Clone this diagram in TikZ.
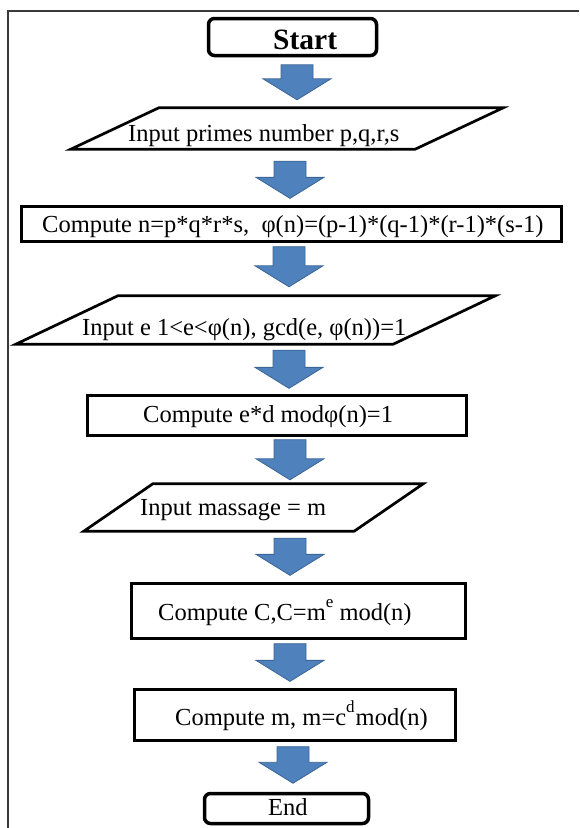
\documentclass[tikz,border=0pt]{standalone}
\usepackage{fontspec}
\setmainfont{Liberation Serif}
\usetikzlibrary{calc}
\definecolor{arrowfill}{HTML}{4F81BD}
\definecolor{arrowedge}{HTML}{3B6594}
\definecolor{framegray}{HTML}{3A3A3A}
\newcommand{\flowfont}{\fontsize{24.5}{29}\selectfont}
\newcommand{\titlefont}{\fontsize{29.5}{34}\selectfont\bfseries}
\newcommand{\supfont}{\fontsize{17}{17}\selectfont}
\newcommand{\raisedsup}[1]{\raisebox{12.5pt}{\supfont #1}}

\begin{document}
\begin{tikzpicture}[x=1pt,y=-1pt,
  terminal/.style={draw, line width=3.5pt, rounded corners=6pt, inner sep=0pt},
  process/.style={draw, line width=3.3pt, inner sep=0pt},
  iobox/.style={inner sep=0pt},
  ioline/.style={draw, line width=2.7pt, line join=miter},
  txt/.style={anchor=base west, inner sep=0pt, font=\flowfont},
  flowarrow/.style={fill=arrowfill, draw=arrowedge, line width=0.8pt, line join=miter,
    to path={let \p1=(\tikztostart), \p2=(\tikztotarget) in
      ({\x1-16pt},\y1) -- ({\x1+16pt},\y1) -- ({\x1+16pt},{\y2+21pt})
      -- ({\x1+34pt},{\y2+21pt}) -- (\x1,\y2) -- ({\x1-34pt},{\y2+21pt})
      -- ({\x1-16pt},{\y2+21pt}) -- cycle}}
]
\useasboundingbox (0,0) rectangle (579,828);

% page frame: left and top rules
\draw[framegray, line width=2pt] (7.5,828) -- (7.5,10.7) -- (579,10.7);

% start terminal
\node[terminal, minimum width=168pt, minimum height=37pt] (start) at (292.5,37) {};
\node[txt, font=\titlefont] (tstart) at (273,49.5) {Start};

% input p, q, r, s
\node[iobox, minimum width=432pt, minimum height=41pt] (in1) at (287,128.5) {};
\draw[ioline] ([xshift=88pt]in1.north west) -- (in1.north east)
  -- ([xshift=-88pt]in1.south east) -- (in1.south west) -- cycle;
\node[txt] (tin1) at (128,141) {Input primes number p,q,r,s};

% modulus and totient
\node[process, minimum width=540pt, minimum height=35pt] (r2) at (291.5,224) {};
\node[txt] (tr2) at (42,232.5) {Compute n=p*q*r*s,\ \ φ(n)=(p-1)*(q-1)*(r-1)*(s-1)};

% input e
\node[iobox, minimum width=479pt, minimum height=48pt] (in2) at (255.5,320) {};
\draw[ioline] ([xshift=102pt]in2.north west) -- (in2.north east)
  -- ([xshift=-102pt]in2.south east) -- (in2.south west) -- cycle;
\node[txt] (tin2) at (82,335) {Input e 1<e<φ(n), gcd(e, φ(n))=1};

% private exponent
\node[process, minimum width=379pt, minimum height=40pt] (r3) at (277,415.5) {};
\node[txt] (tr3) at (143,422) {Compute e*d modφ(n)=1};

% input message
\node[iobox, minimum width=339pt, minimum height=47pt] (in3) at (253.5,507.5) {};
\draw[ioline] ([xshift=69pt]in3.north west) -- (in3.north east)
  -- ([xshift=-69pt]in3.south east) -- (in3.south west) -- cycle;
\node[txt] (tin3) at (140,515) {Input massage = m};

% encryption
\node[process, minimum width=334pt, minimum height=55pt] (r4) at (298.5,611) {};
\node[txt] (tr4) at (158,620) {Compute C,C=m\raisedsup{e} mod(n)};

% decryption
\node[process, minimum width=321pt, minimum height=51pt] (r5) at (295,715) {};
\node[txt] (tr5) at (175,725) {Compute m, m=c\raisedsup{d}\kern1pt mod(n)};

% end terminal
\node[terminal, minimum width=164pt, minimum height=30pt] (end) at (286.5,808.5) {};
\node[txt] (tend) at (268,815) {End};

% block arrows between the steps
\draw[flowarrow] ([xshift=4.5pt,yshift=-7.5pt]start.south) to ([yshift=8pt]in1.north);
\draw[flowarrow] ([xshift=3pt,yshift=-12pt]in1.south) to ([yshift=6.5pt]r2.north);
\draw[flowarrow] ([xshift=-2.5pt,yshift=-3.5pt]r2.south) to ([yshift=9pt]in2.north);
\draw[flowarrow] ([xshift=33.5pt,yshift=-6pt]in2.south) to ([yshift=5.5pt]r3.north);
\draw[flowarrow] ([xshift=13pt,yshift=-2.5pt]r3.south) to ([yshift=4pt]in3.north);
\draw[flowarrow] ([xshift=36.5pt,yshift=-7pt]in3.south) to ([yshift=6.5pt]r4.north);
\draw[flowarrow] ([xshift=-8.5pt,yshift=-3.5pt]r4.south) to ([yshift=6.5pt]r5.north);
\draw[flowarrow] ([xshift=-2pt,yshift=-4.5pt]r5.south) to ([yshift=8.5pt]end.north);
\end{tikzpicture}
\end{document}
